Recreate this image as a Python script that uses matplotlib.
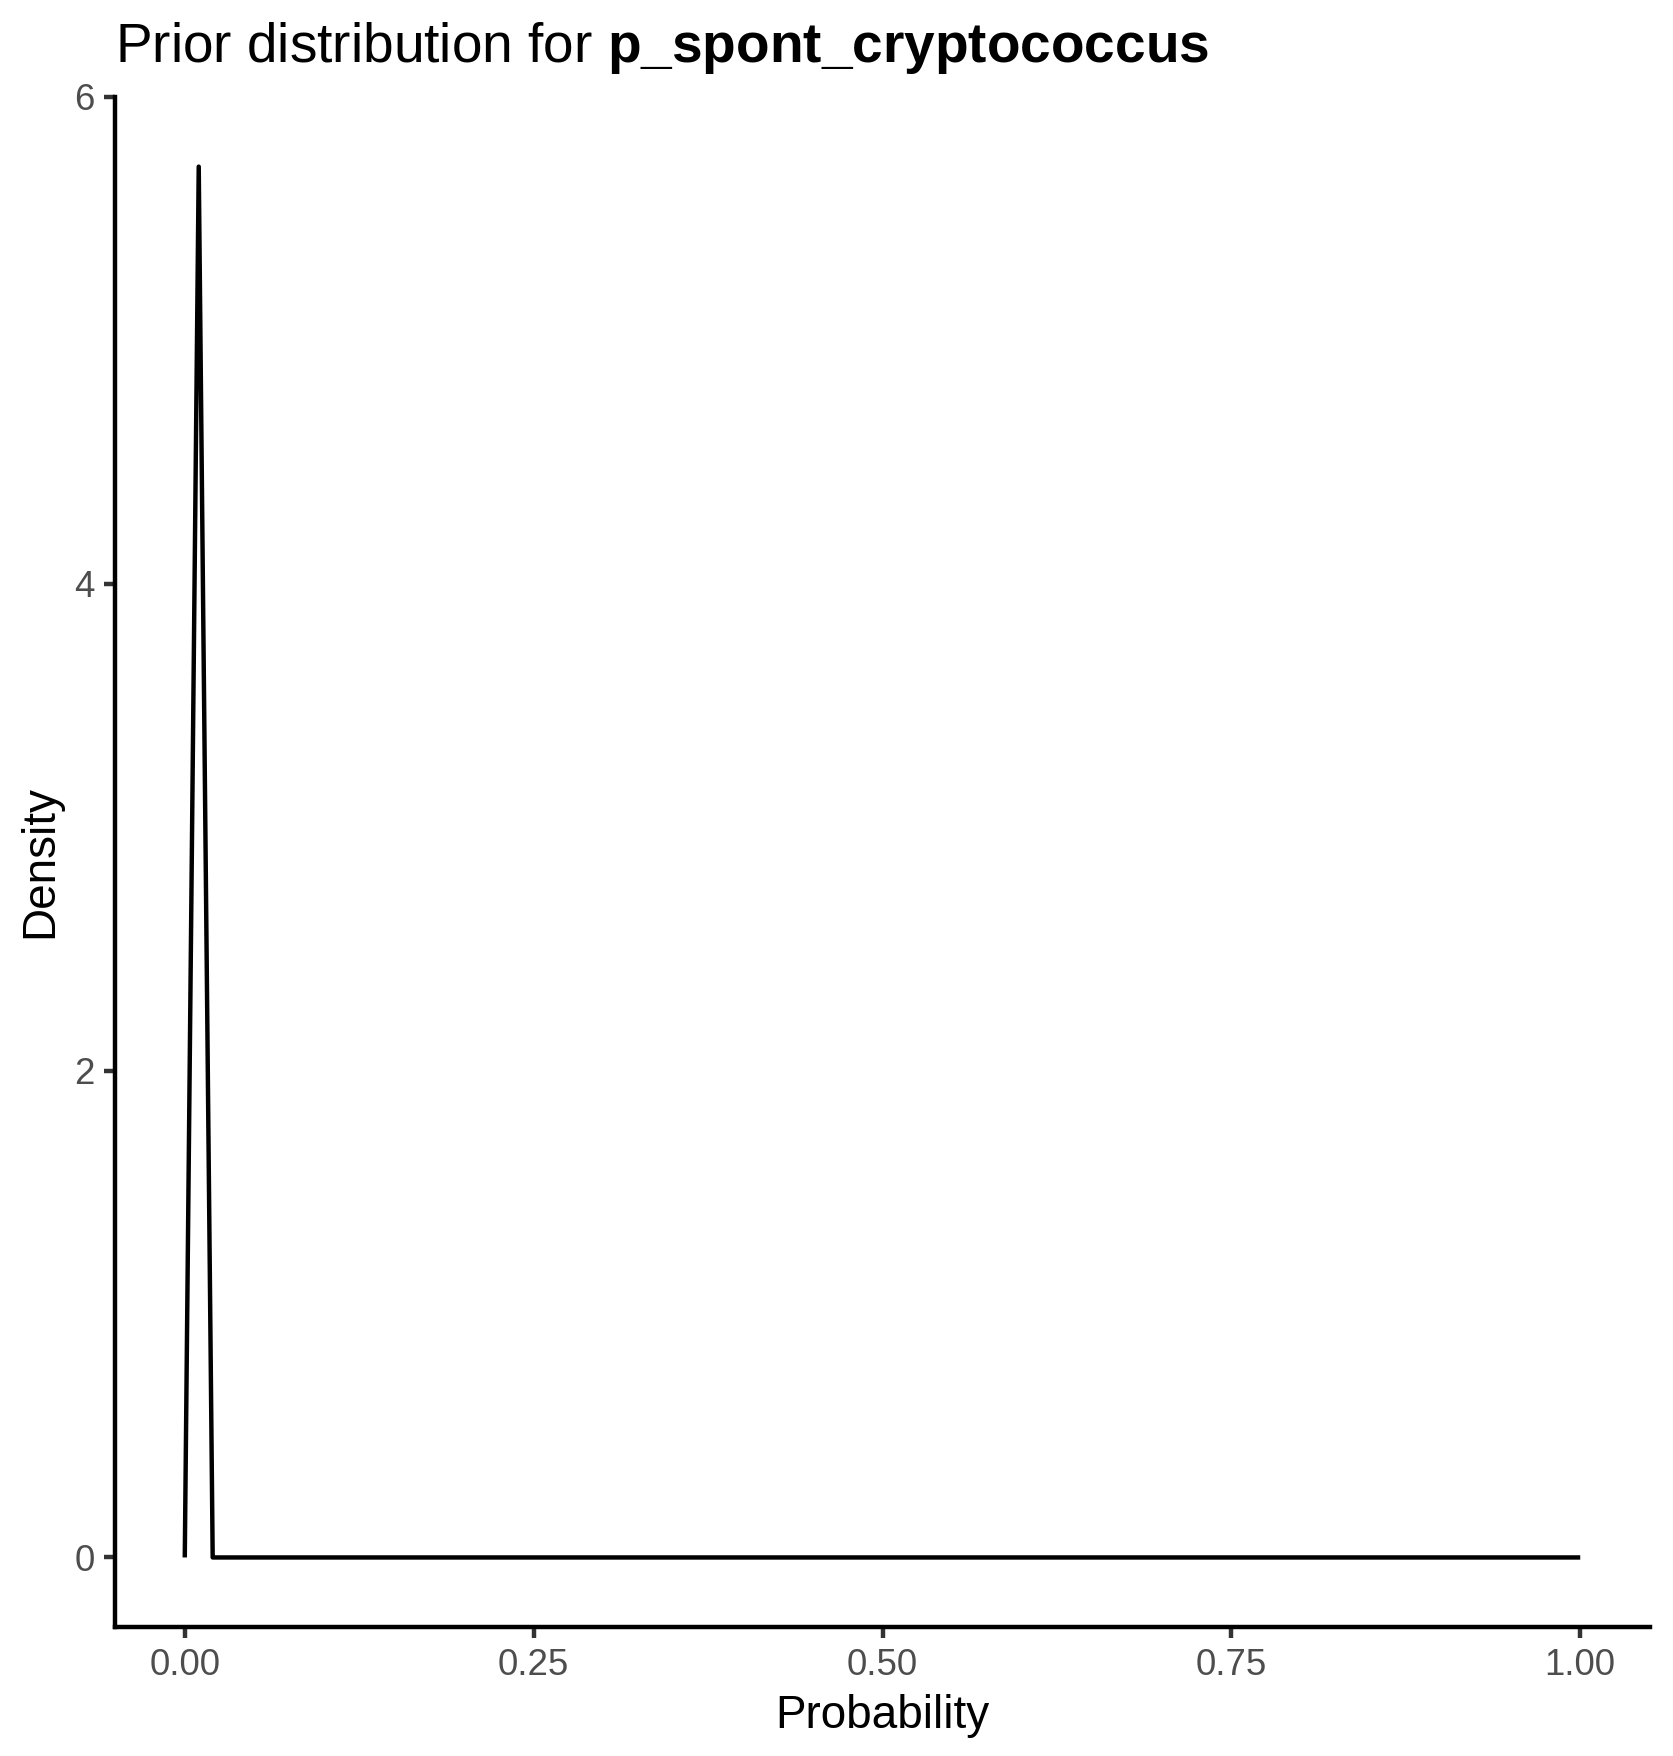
import matplotlib.pyplot as plt
import numpy as np

# prior density
prob = [0.0, 0.01, 0.02, 1.0]
density = [0.0, 5.714, 0.0, 0.0]
xticks = [0.0, 0.25, 0.5, 0.75, 1.0]
xtick_labels = ['0.00', '0.25', '0.50', '0.75', '1.00']
yticks = [0, 2, 4, 6]
param_name = 'p_spont_cryptococcus'

plt.rcParams['font.family'] = ['Liberation Sans', 'DejaVu Sans']
plt.rcParams['mathtext.fontset'] = 'custom'
plt.rcParams['mathtext.rm'] = 'Liberation Sans'
plt.rcParams['mathtext.bf'] = 'Liberation Sans:bold'

lw = 1.42 * 72 / 96  # ggplot lwd -> points

fig = plt.figure(figsize=(1673/300, 1756/300), dpi=300)
ax = fig.add_axes([115/1673, 1 - 1627/1756, (1650-115)/1673, (1627-97)/1756])

ax.plot(prob, density, color='black', linewidth=lw, solid_joinstyle='round', solid_capstyle='butt')

ymax = max(density)
ax.set_xlim(-0.05, 1.05)
ax.set_ylim(-0.05*ymax, 1.05*ymax)
ax.set_xticks(xticks, xtick_labels)
ax.set_yticks(yticks)

for s in ['top', 'right']:
    ax.spines[s].set_visible(False)
for s in ['left', 'bottom']:
    ax.spines[s].set_linewidth(lw)
    ax.spines[s].set_color('black')
    ax.spines[s].set_capstyle('projecting')

ax.tick_params(length=2.75, width=lw, color='#333333', labelcolor='#4D4D4D', labelsize=8.8, pad=2.2)

ax.set_xlabel('Probability', fontsize=11, labelpad=2.75)
ax.set_ylabel('Density', fontsize=11, labelpad=2.75)

ax.set_title('Prior distribution for ' + r'$\bf{' + param_name.replace('_', r'\_') + '}$',
             loc='left', fontsize=13.2, pad=8.4)

fig.savefig('out.png', dpi=300)
